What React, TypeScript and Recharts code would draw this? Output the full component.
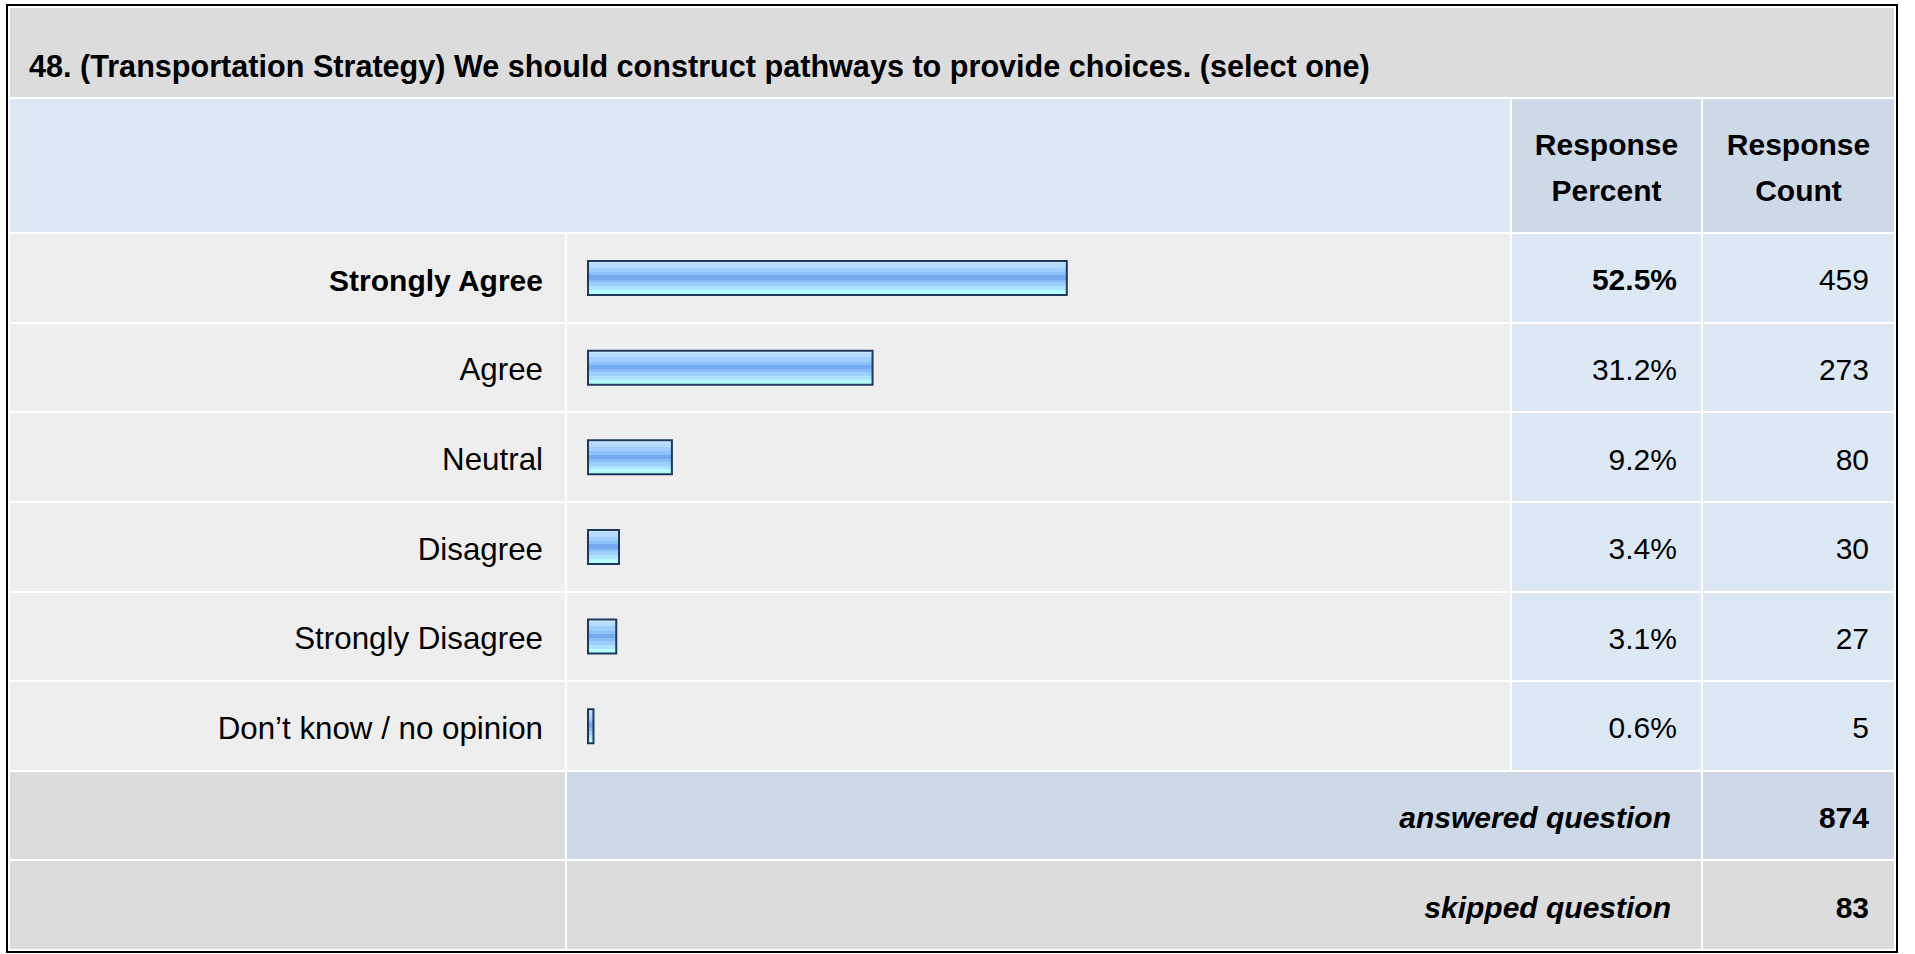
import { Bar, BarChart, XAxis, YAxis } from "recharts";

const TITLE =
  "48. (Transportation Strategy) We should construct pathways to provide choices. (select one)";
const ANSWERS = [
  "Strongly Agree",
  "Agree",
  "Neutral",
  "Disagree",
  "Strongly Disagree",
  "Don’t know / no opinion",
];
const PERCENTS = [52.5, 31.2, 9.2, 3.4, 3.1, 0.6];
const COUNTS = [459, 273, 80, 30, 27, 5];
const ANSWERED = 874;
const SKIPPED = 83;

const FONT = '"Liberation Sans", Arial, Helvetica, sans-serif';
const GRAY = "#dcdcdc";
const ROW_GRAY = "#eeeeee";
const LIGHT_BLUE = "#dde8f5";
const MID_BLUE = "#cdd9e6";

// the most chosen answer is shown in bold
const topIndex = PERCENTS.indexOf(Math.max(...PERCENTS));
const data = ANSWERS.map((name, i) => ({ name, percent: PERCENTS[i] }));

// stepped stripes like the old survey bar image
const STRIPES: [number, number, string][] = [
  [0, 7, "#cde7ff"],
  [7, 20, "#b5dbff"],
  [20, 33, "#a0cfff"],
  [33, 42, "#8ec2fb"],
  [42, 55, "#76aaf0"],
  [55, 63, "#88bdf8"],
  [63, 75, "#9ccefe"],
  [75, 86, "#aee3ff"],
  [86, 100, "#b6fdff"],
];

function AnswerTick({ y, payload }: any) {
  const bold = payload.value === ANSWERS[topIndex];
  return (
    <text
      x={535}
      y={y}
      dy={13}
      textAnchor="end"
      fill="#000"
      fontFamily={FONT}
      fontSize={bold ? 30 : 31.3}
      fontWeight={bold ? 700 : 400}
    >
      {payload.value}
    </text>
  );
}

const cell = (bg: string, extra: React.CSSProperties = {}): React.CSSProperties => ({
  background: bg,
  display: "flex",
  alignItems: "center",
  justifyContent: "flex-end",
  lineHeight: "30px",
  paddingTop: 5,
  boxSizing: "border-box",
  ...extra,
});

export default function App() {
  return (
    <div
      style={{
        position: "absolute",
        left: 6,
        top: 4,
        width: 1892,
        height: 949,
        boxSizing: "border-box",
        border: "2px solid #000",
        padding: 2,
        background: "#fff",
        display: "grid",
        gridTemplateColumns: "555px 943px 189px 191px",
        gridTemplateRows: "89px 133px repeat(8, 1fr)",
        gap: 2,
        fontFamily: FONT,
        fontSize: 30,
        color: "#000",
      }}
    >
      <div
        style={{
          gridColumn: "1 / 5",
          background: GRAY,
          display: "flex",
          alignItems: "center",
          lineHeight: "30px",
          paddingTop: 27,
          paddingLeft: 19,
          boxSizing: "border-box",
          fontWeight: 700,
          fontSize: 30.6,
          whiteSpace: "nowrap",
        }}
      >
        {TITLE}
      </div>

      <div style={{ gridColumn: "1 / 3", background: LIGHT_BLUE }} />
      {["Percent", "Count"].map((h) => (
        <div
          key={h}
          style={{
            background: MID_BLUE,
            display: "flex",
            alignItems: "center",
            justifyContent: "center",
            textAlign: "center",
            lineHeight: "45.7px",
            paddingTop: 4,
            boxSizing: "border-box",
            fontWeight: 700,
          }}
        >
          Response
          <br />
          {h}
        </div>
      ))}

      {ANSWERS.map((a, i) => [
        <div key={a + "l"} style={{ background: ROW_GRAY }} />,
        <div key={a + "b"} style={{ background: ROW_GRAY }} />,
        <div
          key={a + "p"}
          style={cell(LIGHT_BLUE, { paddingRight: 24, fontWeight: i === topIndex ? 700 : 400 })}
        >
          {PERCENTS[i].toFixed(1)}%
        </div>,
        <div key={a + "c"} style={cell(LIGHT_BLUE, { paddingRight: 25 })}>
          {COUNTS[i]}
        </div>,
      ])}

      <div style={{ background: GRAY }} />
      <div
        style={cell(MID_BLUE, {
          gridColumn: "2 / 4",
          paddingRight: 30,
          fontWeight: 700,
          fontStyle: "italic",
        })}
      >
        answered question
      </div>
      <div style={cell(MID_BLUE, { paddingRight: 25, fontWeight: 700 })}>{ANSWERED}</div>

      <div style={{ background: GRAY }} />
      <div
        style={cell(GRAY, {
          gridColumn: "2 / 4",
          paddingRight: 30,
          fontWeight: 700,
          fontStyle: "italic",
        })}
      >
        skipped question
      </div>
      <div style={cell(GRAY, { paddingRight: 25, fontWeight: 700 })}>{SKIPPED}</div>

      <div style={{ position: "absolute", left: 0, top: 227, zIndex: 2 }}>
        <BarChart
          width={1502}
          height={537.75}
          data={data}
          layout="vertical"
          margin={{ top: 0, right: 10, bottom: 0, left: 0 }}
        >
          <defs>
            <linearGradient id="barFill" x1="0" y1="0" x2="0" y2="1">
              {STRIPES.flatMap(([from, to, color]) => [
                <stop key={color + "a"} offset={`${from}%`} stopColor={color} />,
                <stop key={color + "b"} offset={`${to}%`} stopColor={color} />,
              ])}
            </linearGradient>
          </defs>
          <XAxis type="number" domain={[0, 100]} hide />
          <YAxis
            type="category"
            dataKey="name"
            width={580}
            axisLine={false}
            tickLine={false}
            tick={<AnswerTick />}
            interval={0}
          />
          <Bar
            dataKey="percent"
            barSize={34}
            fill="url(#barFill)"
            stroke="#1f385e"
            strokeWidth={2}
            isAnimationActive={false}
          />
        </BarChart>
      </div>
    </div>
  );
}
